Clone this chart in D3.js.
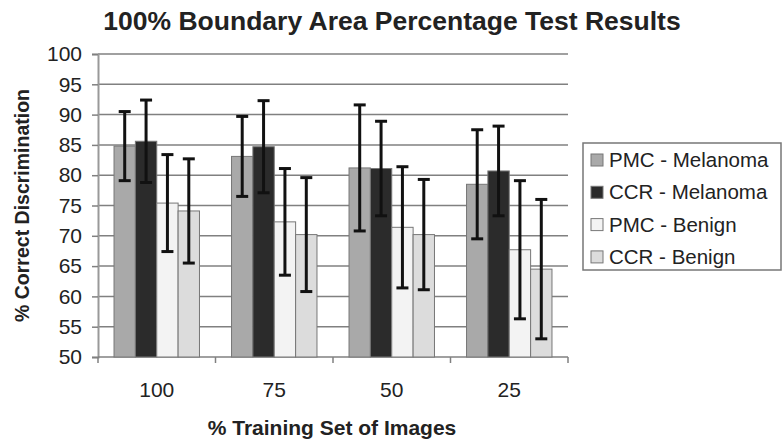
<!DOCTYPE html>
<html><head><meta charset="utf-8">
<script src="https://cdn.jsdelivr.net/npm/d3@7"></script>
<style>body{margin:0;background:#fff;} text{font-family:"Liberation Sans",Arial,sans-serif;fill:#222;}</style>
</head><body>
<svg id="c" width="782" height="443"></svg>
<script>
const categories = ["100","75","50","25"];
const seriesNames = ["PMC - Melanoma","CCR - Melanoma","PMC - Benign","CCR - Benign"];
const pmcMel = [84.8, 83.1, 81.2, 78.5];
const ccrMel = [85.6, 84.7, 81.1, 80.7];
const pmcBen = [75.4, 72.3, 71.4, 67.7];
const ccrBen = [74.1, 70.2, 70.2, 64.5];
const pmcMelErr = [5.7, 6.6, 10.4, 9.0];
const ccrMelErr = [6.8, 7.6, 7.8, 7.4];
const pmcBenErr = [8.0, 8.8, 10.0, 11.4];
const ccrBenErr = [8.6, 9.4, 9.1, 11.5];
const yTicks = [50,55,60,65,70,75,80,85,90,95,100];
const colors = ["#a9a9a9","#2b2b2b","#f3f3f3","#dcdcdc"];

const values = [pmcMel, ccrMel, pmcBen, ccrBen];
const errs = [pmcMelErr, ccrMelErr, pmcBenErr, ccrBenErr];

const svg = d3.select("#c");
const m = {l:98, r:214, t:54, b:86};
const W = 782, H = 443;
const x0 = d3.scaleBand().domain(categories).range([m.l, W - m.r]).paddingInner(0).paddingOuter(0);
const y = d3.scaleLinear().domain([50,100]).range([H - m.b, m.t]);

// gridlines
svg.append("g").selectAll("line").data(yTicks.filter(t=>t>50)).join("line")
  .attr("x1", m.l).attr("x2", W - m.r).attr("y1", d=>y(d)).attr("y2", d=>y(d))
  .attr("stroke", "#808080").attr("stroke-width", 1.5);

// y axis
const ya = svg.append("g").attr("transform", `translate(${m.l},0)`)
  .call(d3.axisLeft(y).tickValues(yTicks).tickSize(6).tickPadding(10));
ya.select(".domain").attr("stroke","#999").attr("stroke-width",2);
ya.selectAll(".tick line").attr("stroke","#808080").attr("stroke-width",1.5);
ya.selectAll("text").attr("font-size", 21).style("fill","#222");

// x axis
const xa = svg.append("g").attr("transform", `translate(0,${H - m.b})`);
xa.append("line").attr("x1", m.l).attr("x2", W - m.r).attr("stroke","#808080").attr("stroke-width",1.5);
const bounds = categories.map(c=>x0(c)).concat([x0(categories[3]) + x0.bandwidth()]);
xa.selectAll("line.tk").data(bounds).join("line").attr("class","tk")
  .attr("x1", d=>d).attr("x2", d=>d).attr("y1",0).attr("y2",6)
  .attr("stroke","#808080").attr("stroke-width",1.5);
xa.selectAll("text").data(categories).join("text")
  .attr("x", d=>x0(d)+x0.bandwidth()/2).attr("y", 40)
  .attr("text-anchor","middle").attr("font-size",21).text(d=>d);

// bars
const bw = x0.bandwidth()/5.5;
categories.forEach((c,i)=>{
  const gx = x0(c) + (x0.bandwidth() - 4*bw)/2;
  values.forEach((vals,s)=>{
    const bx = gx + s*bw;
    svg.append("rect").attr("x", bx).attr("y", y(vals[i]))
      .attr("width", bw).attr("height", y(50) - y(vals[i]))
      .attr("fill", colors[s]).attr("stroke","#777").attr("stroke-width",1);
  });
});
// error bars
categories.forEach((c,i)=>{
  const gx = x0(c) + (x0.bandwidth() - 4*bw)/2;
  values.forEach((vals,s)=>{
    const cx = gx + s*bw + bw/2;
    const hi = y(vals[i] + errs[s][i]), lo = y(vals[i] - errs[s][i]);
    const g = svg.append("g").attr("stroke","#111").attr("stroke-width",3);
    g.append("line").attr("x1",cx).attr("x2",cx).attr("y1",hi).attr("y2",lo);
    g.append("line").attr("x1",cx-6).attr("x2",cx+6).attr("y1",hi).attr("y2",hi);
    g.append("line").attr("x1",cx-6).attr("x2",cx+6).attr("y1",lo).attr("y2",lo);
  });
});

// title
svg.append("text").attr("x", 392).attr("y", 30).attr("text-anchor","middle")
  .attr("font-size", 26.5).attr("font-weight","bold").text("100% Boundary Area Percentage Test Results");
// axis titles
svg.append("text").attr("transform", `translate(29,${(m.t + H - m.b)/2}) rotate(-90)`)
  .attr("text-anchor","middle").attr("font-size",19.5).attr("font-weight","bold").text("% Correct Discrimination");
svg.append("text").attr("x", 332).attr("y", 435).attr("text-anchor","middle")
  .attr("font-size",21).attr("font-weight","bold").text("% Training Set of Images");

// legend
const lg = svg.append("g");
lg.append("rect").attr("x",583).attr("y",143).attr("width",198).attr("height",127)
  .attr("fill","#fff").attr("stroke","#777").attr("stroke-width",1.5);
seriesNames.forEach((n,i)=>{
  const cy = 160 + i*32.3;
  lg.append("rect").attr("x",591).attr("y",cy-6).attr("width",12).attr("height",12)
    .attr("fill",colors[i]).attr("stroke","#777");
  lg.append("text").attr("x",609).attr("y",cy+7).attr("font-size",20.5).text(n);
});
</script>
</body></html>
